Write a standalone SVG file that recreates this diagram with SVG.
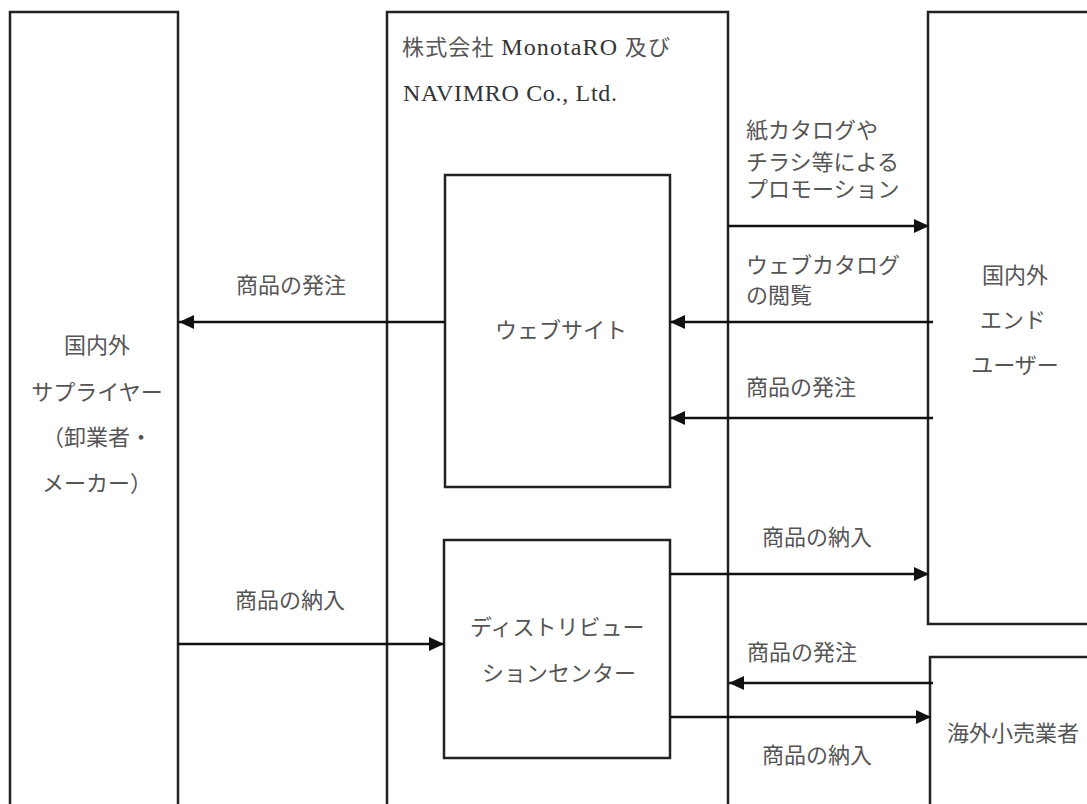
<svg xmlns="http://www.w3.org/2000/svg" width="1087" height="804" viewBox="0 0 1087 804">
<style>
.box{fill:#fff;stroke:#222;stroke-width:2.5}
.con{stroke:#111;stroke-width:2.5;fill:none;marker-end:url(#ah)}
text{font-family:"Liberation Serif","Noto Sans CJK JP",serif;font-size:22px;fill:#555}
.lat{fill:#333;font-size:24px}
</style>
<defs>
<marker id="ah" markerUnits="userSpaceOnUse" markerWidth="16" markerHeight="14" refX="15" refY="7" orient="auto">
<path d="M0,0 L15,7 L0,14 z" fill="#111"/>
</marker>
</defs>
<rect width="1087" height="804" fill="#fff"/>
<g id="supplier">
<rect class="box" x="10" y="12" width="168" height="820"/>
<text x="97" y="353" text-anchor="middle">国内外</text>
<text x="97" y="400" text-anchor="middle">サプライヤー</text>
<text x="42" y="445">（卸業者・</text>
<text x="42" y="491">メーカー）</text>
</g>
<g id="company">
<rect class="box" x="387" y="12" width="341" height="820"/>
<text x="402" y="55" textLength="268">株式会社 <tspan class="lat">MonotaRO</tspan> 及び</text>
<text class="lat" x="403" y="101" textLength="214">NAVIMRO Co., Ltd.</text>
</g>
<g id="website">
<rect class="box" x="445" y="175" width="225" height="312"/>
<text x="561" y="338" text-anchor="middle">ウェブサイト</text>
</g>
<g id="dc">
<rect class="box" x="444" y="540" width="226" height="218"/>
<text x="470" y="635">ディストリビュー</text>
<text x="482" y="681">ションセンター</text>
</g>
<g id="enduser">
<rect class="box" x="928" y="12" width="200" height="612"/>
<text x="1015" y="283" text-anchor="middle">国内外</text>
<text x="1013" y="328" text-anchor="middle">エンド</text>
<text x="1015" y="373" text-anchor="middle">ユーザー</text>
</g>
<g id="retailer">
<rect class="box" x="930" y="657" width="200" height="200"/>
<text x="947" y="741">海外小売業者</text>
</g>
<g id="connectors">
<line class="con" x1="728" y1="226" x2="929" y2="226"/>
<line class="con" x1="933" y1="322" x2="670" y2="322"/>
<line class="con" x1="933" y1="418" x2="670" y2="418"/>
<line class="con" x1="445" y1="322" x2="179" y2="322"/>
<line class="con" x1="178" y1="644" x2="444" y2="644"/>
<line class="con" x1="670" y1="574" x2="929" y2="574"/>
<line class="con" x1="933" y1="683" x2="729" y2="683"/>
<line class="con" x1="670" y1="717" x2="931" y2="717"/>
</g>
<g id="labels">
<text x="746" y="138">紙カタログや</text>
<text x="746" y="170">チラシ等による</text>
<text x="746" y="197">プロモーション</text>
<text x="746" y="273">ウェブカタログ</text>
<text x="746" y="303">の閲覧</text>
<text x="746" y="395">商品の発注</text>
<text x="236" y="293">商品の発注</text>
<text x="235" y="608">商品の納入</text>
<text x="762" y="545">商品の納入</text>
<text x="747" y="660">商品の発注</text>
<text x="762" y="763">商品の納入</text>
</g>
</svg>
